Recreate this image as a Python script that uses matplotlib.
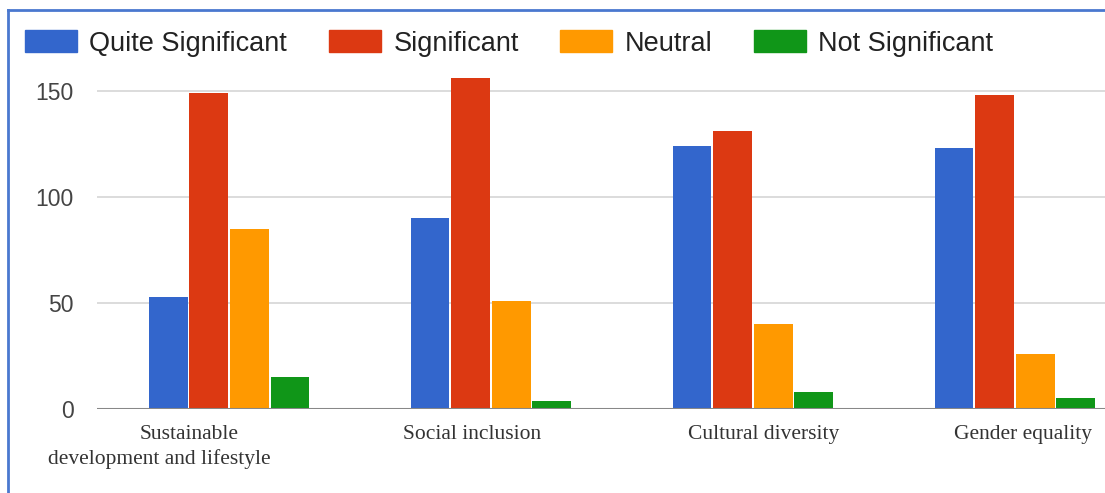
import numpy as np
import matplotlib
matplotlib.use("Agg")
import matplotlib.pyplot as plt
from matplotlib.lines import Line2D
from matplotlib.patches import Patch

categories = ["Sustainable\ndevelopment and lifestyle", "Social inclusion",
              "Cultural diversity", "Gender equality"]
series_names = ["Quite Significant", "Significant", "Neutral", "Not Significant"]
quite_significant = [53, 90, 124, 123]
significant = [149, 156, 131, 148]
neutral = [85, 51, 40, 26]
not_significant = [15, 4, 8, 5]
y_ticks = [0, 50, 100, 150]

colors = ["#3366CC", "#DC3912", "#FF9900", "#109618"]
values = [quite_significant, significant, neutral, not_significant]

W, H = 1105, 493
fig = plt.figure(figsize=(W / 100, H / 100), dpi=100)
ax = fig.add_axes([97 / W, 84 / H, 1 - 97 / W, 0.688])

x = np.arange(len(categories))
width = 0.148
step = 0.155
for i, (name, vals, c) in enumerate(zip(series_names, values, colors)):
    ax.bar(x + (i - 1.5) * step, vals, width, color=c, label=name, zorder=3)

ax.set_xlim(-0.504, 3.344)
ax.set_ylim(0, 160)
ax.set_yticks(y_ticks)
ax.set_yticklabels([str(t) for t in y_ticks], family="Liberation Sans")
ax.tick_params(axis="y", length=0, pad=17, labelsize=16.5, labelcolor="#444444")
ax.set_xticks([])
ax.grid(axis="y", color="#d6d6d6", linewidth=1.2, zorder=0)
for s in ax.spines.values():
    s.set_visible(False)
ax.axhline(0, color="#888888", linewidth=2.2, zorder=4)

# category labels: each line placed separately, slightly off-centre as in the original
line_shift = [[-0.153, -0.267], [-0.073], [0.042], [0.031]]
ax_h = 0.688 * H
for i, lab in enumerate(categories):
    for j, line in enumerate(lab.split("\n")):
        ax.text(i + line_shift[i][j], -(16 + 24 * j) / ax_h, line,
                transform=ax.get_xaxis_transform(), ha="center", va="top",
                fontsize=15.5, family="Liberation Serif", color="#333333")

# legend entries placed one by one (uneven spacing in the original)
legend_x = [25, 329, 560, 754]
for name, c, lx in zip(series_names, colors, legend_x):
    fig.legend(handles=[Patch(color=c, label=name)], loc="center left",
               bbox_to_anchor=(lx / W, 1 - 43.5 / H), frameon=False,
               handlelength=1.93, handleheight=0.85, handletextpad=0.45,
               borderpad=0, borderaxespad=0, labelcolor="#222222",
               prop={"family": "Liberation Sans", "size": 19.5})

# blue frame around the figure (left and top edges visible)
fig.add_artist(Line2D([8 / W, 8 / W], [0, 1 - 10 / H],
                      color="#4a78cf", linewidth=2, transform=fig.transFigure))
fig.add_artist(Line2D([8 / W, 1], [1 - 10 / H, 1 - 10 / H],
                      color="#4a78cf", linewidth=2, transform=fig.transFigure))

fig.savefig("out.png", dpi=100, facecolor="white")
